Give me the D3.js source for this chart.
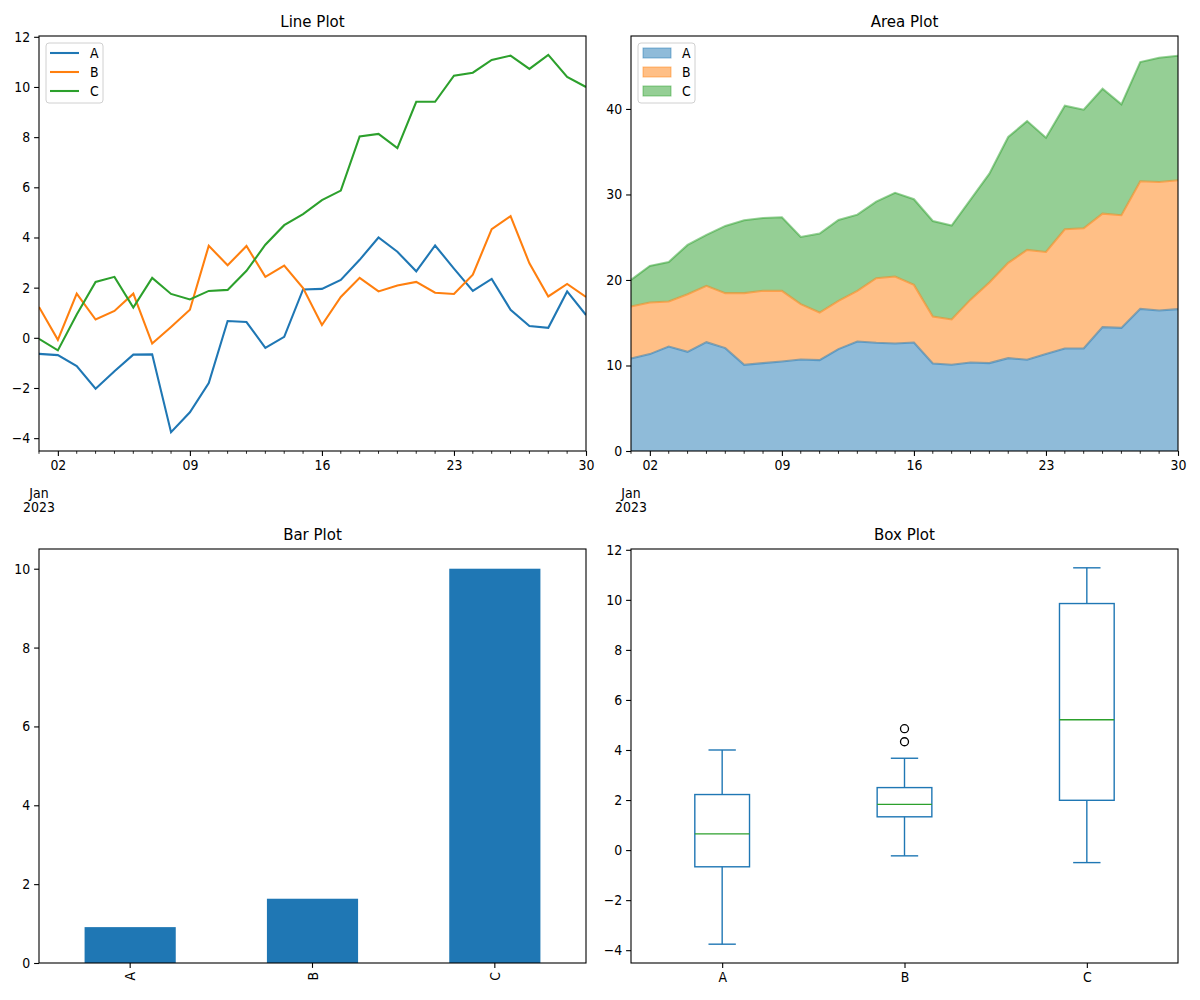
<!DOCTYPE html>
<html>
<head>
<meta charset="UTF-8">
<script src="https://d3js.org/d3.v7.min.js"></script>
<style>
  body { margin: 0; background: #fff; }
  svg text { font-family: "Liberation Sans Narrow", "DejaVu Sans Condensed", "Noto Sans CJK SC", sans-serif; fill: #000; }
</style>
</head>
<body>
<svg width="1200" height="1000"></svg>
<script>
// ---- data ----
const series = ["A", "B", "C"];
const colors = ["#1f77b4", "#ff7f0e", "#2ca02c"];
const days = d3.range(1, 31).map(d => new Date(2023, 0, d));

// line plot values
const lineA = [-0.64, -0.69, -1.13, -2.03, -1.33, -0.67, -0.66, -3.76, -2.97, -1.8,
  0.67, 0.63, -0.4, 0.04, 1.93, 1.95, 2.31, 3.11, 4.0, 3.43,
  2.65, 3.68, 2.76, 1.87, 2.35, 1.12, 0.47, 0.4, 1.85, 0.91];
const lineB = [1.23, -0.08, 1.76, 0.73, 1.07, 1.76, -0.23, 0.43, 1.12, 3.67,
  2.89, 3.66, 2.43, 2.88, 1.98, 0.51, 1.63, 2.39, 1.85, 2.09,
  2.23, 1.8, 1.75, 2.52, 4.33, 4.85, 2.97, 1.65, 2.15, 1.63];
const lineC = [-0.04, -0.5, 0.93, 2.23, 2.43, 1.21, 2.39, 1.75, 1.53, 1.87,
  1.91, 2.67, 3.71, 4.49, 4.93, 5.49, 5.87, 8.03, 8.13, 7.56,
  9.41, 9.41, 10.45, 10.57, 11.08, 11.25, 10.72, 11.28, 10.4, 10.0];

// area plot values (stacked)
const areaA = [10.82, 11.33, 12.22, 11.6, 12.73, 12.03, 10.08, 10.28, 10.47, 10.7,
  10.63, 11.92, 12.81, 12.65, 12.57, 12.69, 10.24, 10.08, 10.35, 10.28,
  10.86, 10.67, 11.33, 11.99, 11.99, 14.48, 14.4, 16.62, 16.43, 16.59];
const areaB = [6.08, 6.03, 5.26, 6.74, 6.58, 6.43, 8.38, 8.45, 8.26, 6.47,
  5.56, 5.64, 5.92, 7.56, 7.83, 6.74, 5.49, 5.3, 7.35, 9.42,
  11.14, 12.85, 11.95, 13.94, 14.06, 13.28, 13.17, 14.92, 15.03, 15.07];
const areaC = [3.11, 4.29, 4.63, 5.76, 5.96, 7.86, 8.52, 8.52, 8.6, 7.86,
  9.23, 9.46, 8.91, 8.95, 9.8, 10.01, 11.17, 10.98, 11.69, 12.73,
  14.72, 15.06, 13.36, 14.45, 13.86, 14.6, 12.97, 13.94, 14.53, 14.56];

const lineData = [lineA, lineB, lineC];
const areaData = [areaA, areaB, areaC];
const barValues = lineData.map(s => s[s.length - 1]);

const titles = ["Line Plot", "Area Plot", "Bar Plot", "Box Plot"];
const dateTicks = [2, 9, 16, 23, 30].map(d => new Date(2023, 0, d));

// ---- layout ----
const svg = d3.select("svg");
const panels = [
  { x0: 39, x1: 586, y0: 36, y1: 451 },
  { x0: 631, x1: 1178, y0: 36, y1: 451 },
  { x0: 39, x1: 586, y0: 549, y1: 963 },
  { x0: 631, x1: 1178, y0: 549, y1: 963 }
];
const tickFont = 13.9;
const lw = 2.08;   // 1.5pt line width

function pad(ext, f = 0.05) {
  const r = ext[1] - ext[0];
  return [ext[0] - r * f, ext[1] + r * f];
}

function frame(p, title) {
  svg.append("rect").attr("x", p.x0).attr("y", p.y0)
    .attr("width", p.x1 - p.x0).attr("height", p.y1 - p.y0)
    .attr("fill", "none").attr("stroke", "#000").attr("stroke-width", 1.1);
  svg.append("text").attr("x", (p.x0 + p.x1) / 2).attr("y", p.y0 - 9)
    .attr("text-anchor", "middle").style("font-size", "16.7px").text(title);
}

function yAxis(p, y, ticks) {
  const g = svg.append("g").attr("transform", `translate(${p.x0},0)`)
    .call(d3.axisLeft(y).tickValues(ticks).tickSize(4.9).tickPadding(4).tickFormat(d => d < 0 ? "\u2212" + Math.abs(d) : d));
  g.select(".domain").remove();
  g.selectAll("text").style("font-size", tickFont + "px").style("font-family", null);
  g.selectAll("line").attr("stroke-width", 1.1);
}

function dateAxis(p, x) {
  const g = svg.append("g").attr("transform", `translate(0,${p.y1})`);
  // minor ticks every day
  g.selectAll(".minor").data(days.filter(d => !dateTicks.some(t => +t === +d)))
    .join("line").attr("x1", d => x(d)).attr("x2", d => x(d))
    .attr("y1", 0).attr("y2", 2.8).attr("stroke", "#000").attr("stroke-width", 0.85);
  const maj = g.append("g").call(d3.axisBottom(x).tickValues(dateTicks).tickSize(4.9).tickPadding(4)
    .tickFormat(d3.timeFormat("%d")));
  maj.select(".domain").remove();
  maj.selectAll("text").style("font-size", tickFont + "px").style("font-family", null);
  maj.selectAll("line").attr("stroke-width", 1.1);
  g.append("text").attr("x", x(days[0])).attr("y", 47).attr("text-anchor", "middle")
    .style("font-size", tickFont + "px").text("Jan");
  g.append("text").attr("x", x(days[0])).attr("y", 61).attr("text-anchor", "middle")
    .style("font-size", tickFont + "px").text("2023");
}

function legend(x0, y0, kind) {
  const g = svg.append("g").attr("transform", `translate(${x0},${y0})`);
  g.append("rect").attr("width", 57).attr("height", 60).attr("rx", 3)
    .attr("fill", "#fff").attr("fill-opacity", 0.8).attr("stroke", "#d0d0d0");
  series.forEach((s, i) => {
    const cy = 10 + i * 19;
    if (kind === "line") {
      g.append("line").attr("x1", 4).attr("x2", 33).attr("y1", cy).attr("y2", cy)
        .attr("stroke", colors[i]).attr("stroke-width", lw);
    } else {
      g.append("rect").attr("x", 5).attr("y", cy - 5).attr("width", 28).attr("height", 10)
        .attr("fill", colors[i]).attr("fill-opacity", 0.5)
        .attr("stroke", colors[i]).attr("stroke-opacity", 0.5);
    }
    g.append("text").attr("x", 44).attr("y", cy + 5).style("font-size", tickFont + "px").text(s);
  });
}

// ---- Line plot ----
{
  const p = panels[0];
  const x = d3.scaleTime().domain(d3.extent(days)).range([p.x0, p.x1]);
  const y = d3.scaleLinear().domain(pad(d3.extent(lineData.flat()))).range([p.y1, p.y0]);
  svg.append("clipPath").attr("id", "c0").append("rect")
    .attr("x", p.x0).attr("y", p.y0).attr("width", p.x1 - p.x0).attr("height", p.y1 - p.y0);
  const line = d3.line().x((d, i) => x(days[i])).y(d => y(d));
  lineData.forEach((s, i) => {
    svg.append("path").attr("d", line(s)).attr("fill", "none")
      .attr("stroke", colors[i]).attr("stroke-width", lw).attr("clip-path", "url(#c0)");
  });
  yAxis(p, y, d3.range(-4, 13, 2));
  dateAxis(p, x);
  frame(p, titles[0]);
  legend(46, 43, "line");
}

// ---- Area plot ----
{
  const p = panels[1];
  const x = d3.scaleTime().domain(d3.extent(days)).range([p.x0, p.x1]);
  const rows = days.map((d, i) => ({ A: areaA[i], B: areaB[i], C: areaC[i] }));
  const stacked = d3.stack().keys(series)(rows);
  const top = d3.max(stacked[2], d => d[1]);
  const y = d3.scaleLinear().domain([0, top * 1.05]).range([p.y1, p.y0]);
  const area = d3.area().x((d, i) => x(days[i])).y0(d => y(d[0])).y1(d => y(d[1]));
  const edge = d3.line().x((d, i) => x(days[i])).y(d => y(d[1]));
  stacked.forEach((s, i) => {
    svg.append("path").attr("d", area(s)).attr("fill", colors[i]).attr("fill-opacity", 0.5);
  });
  stacked.forEach((s, i) => {
    svg.append("path").attr("d", edge(s)).attr("fill", "none")
      .attr("stroke", colors[i]).attr("stroke-opacity", 0.5).attr("stroke-width", lw);
  });
  yAxis(p, y, [0, 10, 20, 30, 40]);
  dateAxis(p, x);
  frame(p, titles[1]);
  legend(638, 43, "area");
}

// ---- Bar plot ----
{
  const p = panels[2];
  const x = d3.scaleBand().domain(series).range([p.x0, p.x1]).paddingInner(0.5).paddingOuter(0.25);
  const y = d3.scaleLinear().domain([0, d3.max(barValues) * 1.05]).range([p.y1, p.y0]);
  svg.selectAll(".bar").data(barValues).join("rect")
    .attr("x", (d, i) => x(series[i])).attr("width", x.bandwidth())
    .attr("y", d => y(d)).attr("height", d => y(0) - y(d)).attr("fill", colors[0]);
  yAxis(p, y, d3.range(0, 11, 2));
  const g = svg.append("g").attr("transform", `translate(0,${p.y1})`);
  series.forEach(s => {
    const cx = x(s) + x.bandwidth() / 2;
    g.append("line").attr("x1", cx).attr("x2", cx).attr("y1", 0).attr("y2", 4.9)
      .attr("stroke", "#000").attr("stroke-width", 1.1);
    g.append("text").attr("transform", `translate(${cx + 5},${9}) rotate(-90)`)
      .attr("text-anchor", "end").style("font-size", tickFont + "px").text(s);
  });
  frame(p, titles[2]);
}

// ---- Box plot ----
{
  const p = panels[3];
  const x = d3.scalePoint().domain(series).range([p.x0, p.x1]).padding(0.5);
  const y = d3.scaleLinear().domain(pad(d3.extent(lineData.flat()))).range([p.y1, p.y0]);
  const bw = x.step() * 0.3;
  lineData.forEach((s, i) => {
    const v = s.slice().sort(d3.ascending);
    const q1 = d3.quantile(v, 0.25), med = d3.quantile(v, 0.5), q3 = d3.quantile(v, 0.75);
    const iqr = q3 - q1;
    const lo = d3.min(v.filter(d => d >= q1 - 1.5 * iqr));
    const hi = d3.max(v.filter(d => d <= q3 + 1.5 * iqr));
    const out = v.filter(d => d < lo || d > hi);
    const cx = x(series[i]);
    const g = svg.append("g").attr("stroke", colors[0]).attr("stroke-width", 1.4).attr("fill", "none");
    g.append("rect").attr("x", cx - bw / 2).attr("width", bw).attr("y", y(q3)).attr("height", y(q1) - y(q3));
    g.append("line").attr("x1", cx).attr("x2", cx).attr("y1", y(q3)).attr("y2", y(hi));
    g.append("line").attr("x1", cx).attr("x2", cx).attr("y1", y(q1)).attr("y2", y(lo));
    [lo, hi].forEach(w => g.append("line").attr("x1", cx - bw / 4).attr("x2", cx + bw / 4)
      .attr("y1", y(w)).attr("y2", y(w)));
    svg.append("line").attr("x1", cx - bw / 2).attr("x2", cx + bw / 2).attr("y1", y(med)).attr("y2", y(med))
      .attr("stroke", colors[2]).attr("stroke-width", 1.4);
    out.forEach(o => svg.append("circle").attr("cx", cx).attr("cy", y(o)).attr("r", 4)
      .attr("fill", "none").attr("stroke", "#000").attr("stroke-width", 1.3));
  });
  yAxis(p, y, d3.range(-4, 13, 2));
  const g = svg.append("g").attr("transform", `translate(0,${p.y1})`)
    .call(d3.axisBottom(x).tickSize(4.9).tickPadding(4));
  g.select(".domain").remove();
  g.selectAll("text").style("font-size", tickFont + "px").style("font-family", null);
  g.selectAll("line").attr("stroke-width", 1.1);
  frame(p, titles[3]);
}
</script>
</body>
</html>
